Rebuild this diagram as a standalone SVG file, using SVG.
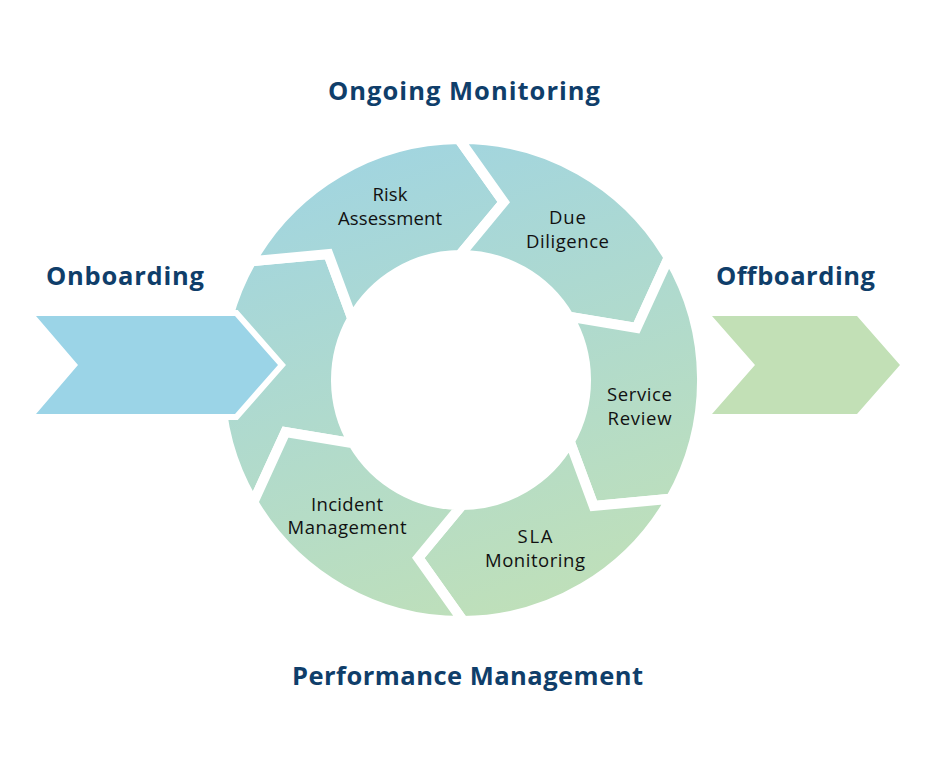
<svg xmlns="http://www.w3.org/2000/svg" width="934" height="760" viewBox="0 0 934 760">
  <style>
    .seg { fill: url(#ringGrad); stroke: #ffffff; stroke-width: 10; stroke-linejoin: miter; }
    .lbl { font-family: "Open Sans", Lato, "Liberation Sans", sans-serif; font-size: 18.5px; fill: #111111; text-anchor: middle; }
    .ttl { font-family: "Open Sans", Lato, "Liberation Sans", sans-serif; font-size: 25.5px; font-weight: 700; fill: #0f3e6a; text-anchor: middle; }
    .arrow { stroke: #ffffff; stroke-width: 12; stroke-linejoin: miter; paint-order: stroke; }
  </style>
  <defs>
    <linearGradient id="ringGrad" gradientUnits="userSpaceOnUse" x1="400" y1="150" x2="560" y2="620">
      <stop offset="0" stop-color="#a2d5df"/>
      <stop offset="1" stop-color="#c0e0b8"/>
    </linearGradient>
  </defs>
  <rect width="934" height="760" fill="#ffffff"/>

  <g id="title-ongoing">
    <text class="ttl" x="464" y="100" textLength="272" lengthAdjust="spacing">Ongoing Monitoring</text>
  </g>
  <g id="title-performance">
    <text class="ttl" x="467.5" y="685" textLength="351" lengthAdjust="spacing">Performance Management</text>
  </g>

  <g id="seg-left">
    <path class="seg" d="M 253.3 502.3 A 241 241 0 0 1 251.2 261.3 L 328.3 254.0 L 352.2 318.4 A 125 125 0 0 0 353.3 443.4 L 285.5 432.0 Z"/>
  </g>
  <g id="seg-risk">
    <path class="seg" d="M 251.2 261.3 A 241 241 0 0 1 458.9 139.0 L 503.7 202.1 L 459.9 255.0 A 125 125 0 0 0 352.2 318.4 L 328.3 254.0 Z"/>
    <text class="lbl" x="390" y="201" textLength="35" lengthAdjust="spacing">Risk</text>
    <text class="lbl" x="390" y="225" textLength="104" lengthAdjust="spacing">Assessment</text>
  </g>
  <g id="seg-due">
    <path class="seg" d="M 458.9 139.0 A 241 241 0 0 1 668.7 257.7 L 636.5 328.0 L 568.7 316.6 A 125 125 0 0 0 459.9 255.0 L 503.7 202.1 Z"/>
    <text class="lbl" x="567.5" y="224" textLength="37" lengthAdjust="spacing">Due</text>
    <text class="lbl" x="567.5" y="248" textLength="83" lengthAdjust="spacing">Diligence</text>
  </g>
  <g id="seg-service">
    <path class="seg" d="M 668.7 257.7 A 241 241 0 0 1 670.8 498.7 L 593.7 506.0 L 569.8 441.6 A 125 125 0 0 0 568.7 316.6 L 636.5 328.0 Z"/>
    <text class="lbl" x="639.5" y="401" textLength="65" lengthAdjust="spacing">Service</text>
    <text class="lbl" x="639.5" y="425" textLength="64" lengthAdjust="spacing">Review</text>
  </g>
  <g id="seg-sla">
    <path class="seg" d="M 670.8 498.7 A 241 241 0 0 1 463.1 621.0 L 418.3 557.9 L 462.1 505.0 A 125 125 0 0 0 569.8 441.6 L 593.7 506.0 Z"/>
    <text class="lbl" x="535" y="543" textLength="35" lengthAdjust="spacing">SLA</text>
    <text class="lbl" x="535" y="567" textLength="100" lengthAdjust="spacing">Monitoring</text>
  </g>
  <g id="seg-incident">
    <path class="seg" d="M 463.1 621.0 A 241 241 0 0 1 253.3 502.3 L 285.5 432.0 L 353.3 443.4 A 125 125 0 0 0 462.1 505.0 L 418.3 557.9 Z"/>
    <text class="lbl" x="347" y="511" textLength="72" lengthAdjust="spacing">Incident</text>
    <text class="lbl" x="347" y="534" textLength="119" lengthAdjust="spacing">Management</text>
  </g>

  <g id="onboarding">
    <polygon class="arrow" fill="#9bd4e7" points="36,316 235,316 278,365 235,414 36,414 78,365"/>
    <text class="ttl" x="125" y="285" textLength="158" lengthAdjust="spacing">Onboarding</text>
  </g>
  <g id="offboarding">
    <polygon class="arrow" fill="#c2e0b6" points="712,316 857,316 900,365 857,414 712,414 755,365"/>
    <text class="ttl" x="795.5" y="285" textLength="159" lengthAdjust="spacing">Offboarding</text>
  </g>

  <g id="connectors"></g>
</svg>
